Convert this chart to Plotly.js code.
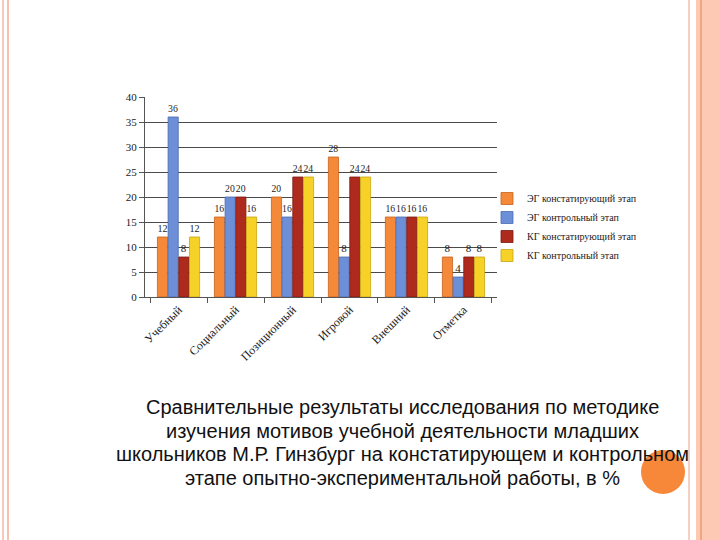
<!DOCTYPE html>
<html>
<head>
<meta charset="utf-8">
<script src="https://cdn.plot.ly/plotly-3.0.1.min.js"></script>
<style>
html,body{margin:0;padding:0;background:#fff;}
#wrap{position:relative;width:720px;height:540px;overflow:hidden;background:#fff;}
#chart{position:absolute;left:0;top:0;width:720px;height:540px;}
.deco{position:absolute;top:0;height:540px;}
</style>
</head>
<body>
<div id="wrap">
<div class="deco" style="left:2px;width:2px;background:#f8c8bc;"></div>
<div class="deco" style="left:7px;width:2px;background:#f6c0b2;"></div>
<div class="deco" style="left:688px;width:2px;background:#f8cfc4;"></div>
<div class="deco" style="left:696px;width:24px;background:#fdc9b5;"></div>
<div class="deco" style="left:700px;width:2px;background:#f0a882;"></div>
<div style="position:absolute;left:641px;top:450px;width:44px;height:44px;border-radius:50%;background:#f7883a;"></div>
<div id="chart"></div>
</div>
<script>
var categories = ["Учебный","Социальный","Позиционный","Игровой","Внешний","Отметка"];
var seriesNames = ["ЭГ констатирующий этап","ЭГ контрольный этап","КГ констатирующий этап","КГ контрольный этап"];
var egStart = [12,16,20,28,16,8];
var egControl = [36,20,16,8,16,4];
var kgStart = [8,20,24,24,16,8];
var kgControl = [12,16,24,24,16,8];
var yTicks = [0,5,10,15,20,25,30,35,40];
var captionLines = [
 "Сравнительные результаты исследования по методике",
 "изучения мотивов учебной деятельности младших",
 "школьников М.Р. Гинзбург на констатирующем и контрольном",
 "этапе опытно-экспериментальной работы, в %"
];

var colors = ["#f5893a","#6c8fd7","#ad2a1c","#f6d128"];
var lineColors = ["#c8621c","#4a6bb0","#7a1a10","#c9a510"];
var vals = [egStart, egControl, kgStart, kgControl];
var serif = "Liberation Serif, Times New Roman, serif";
var traces = vals.map(function(v,i){
  return {
    type:"bar", x:categories, y:v, name:seriesNames[i],
    marker:{color:colors[i], line:{color:lineColors[i], width:0.8}},
    text:v.map(String), textposition:"outside", cliponaxis:false,
    textfont:{family:serif, size:11, color:"#222"}
  };
});

var L=145, R=497, T=97, B=297;
function py(p){return (B-p)/(B-T);}
var ann = captionLines.map(function(t,i){
  return {xref:"paper", yref:"paper", x:(402-L)/(R-L), y:py(407+i*23.7),
    xanchor:"center", yanchor:"middle", showarrow:false, text:t,
    font:{family:"Liberation Sans, Arial, sans-serif", size:20, color:"#111"}};
});

var layout = {
  width:720, height:540,
  margin:{l:L, r:720-R, t:T, b:540-B},
  paper_bgcolor:"rgba(0,0,0,0)", plot_bgcolor:"rgba(0,0,0,0)",
  barmode:"group", bargap:0.25, bargroupgap:0.05,
  showlegend:true,
  legend:{x:(487-L)/(R-L), y:py(184), xanchor:"left", yanchor:"top",
    font:{family:serif, size:10, color:"#222"},
    itemwidth:30, tracegroupgap:0, bgcolor:"rgba(0,0,0,0)"},
  xaxis:{type:"category", range:[-0.588,5.588], showline:true, linecolor:"#555", linewidth:1,
    ticks:"outside", tickson:"boundaries", ticklen:5, tickcolor:"#555",
    tickangle:-45, showgrid:false,
    tickfont:{family:serif, size:12, color:"#222"}},
  yaxis:{range:[0,40], tickvals:yTicks, showline:true, linecolor:"#555", linewidth:1,
    ticks:"outside", ticklen:5, tickcolor:"#555",
    showgrid:true, gridcolor:"#4a4a4a", gridwidth:1, zeroline:false,
    tickfont:{family:serif, size:11, color:"#222"}},
  annotations:ann
};
Plotly.newPlot("chart", traces, layout, {displayModeBar:false, staticPlot:true});
</script>
</body>
</html>
